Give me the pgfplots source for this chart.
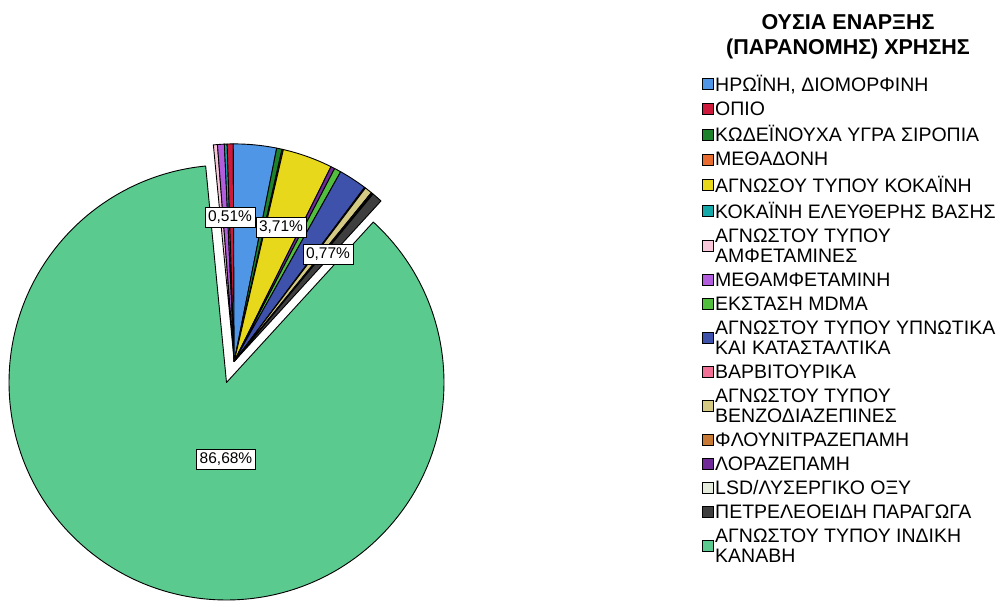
\documentclass[border=0pt]{standalone}
\usepackage{fontspec}
\setmainfont{Liberation Sans}
\usepackage{pgfplots}
\usepackage{pgfplotstable}
\pgfplotsset{compat=1.18}

\definecolor{cHer}{RGB}{80,150,230}
\definecolor{cOpio}{RGB}{205,25,60}
\definecolor{cCod}{RGB}{30,130,45}
\definecolor{cMtd}{RGB}{232,108,48}
\definecolor{cCoc}{RGB}{232,216,28}
\definecolor{cTeal}{RGB}{20,168,168}
\definecolor{cAmph}{RGB}{248,200,218}
\definecolor{cMeth}{RGB}{178,92,222}
\definecolor{cMdma}{RGB}{82,190,62}
\definecolor{cHyp}{RGB}{62,82,172}
\definecolor{cBarb}{RGB}{240,112,150}
\definecolor{cBenz}{RGB}{212,202,132}
\definecolor{cFlu}{RGB}{200,122,52}
\definecolor{cLor}{RGB}{112,42,152}
\definecolor{cLsd}{RGB}{230,236,220}
\definecolor{cPet}{RGB}{62,62,62}
\definecolor{cCan}{RGB}{90,202,142}

% slices in drawing order (clockwise from the start angle)
\pgfplotstableread[col sep=comma]{
val,col,grp
0.30,cAmph,1
0.51,cMeth,1
0.20,cTeal,1
0.45,cOpio,1
3.20,cHer,1
0.40,cCod,1
0.10,cMtd,1
3.71,cCoc,1
0.30,cLor,1
0.50,cMdma,1
2.09,cHyp,1
0.08,cBarb,1
0.55,cBenz,1
0.08,cFlu,1
0.08,cLsd,1
0.77,cPet,1
86.68,cCan,0
}\piedata

\begin{document}
\begin{tikzpicture}
\begin{axis}[
  scale only axis, width=1002pt, height=606pt,
  xmin=0, xmax=1002, ymin=0, ymax=606,
  hide axis, clip=false,
  legend image code/.code={\draw[#1, draw=black, line width=0.8pt] (0pt,-5.5pt) rectangle (11pt,5.5pt);},
  legend style={at={(axis cs:702,532)}, anchor=north west, draw=none, fill=none,
    font=\fontsize{19.5}{20}\selectfont, cells={anchor=west, align=left},
    row sep=6.5pt, inner sep=0pt, nodes={inner xsep=1.2pt, inner ysep=1pt}},
]
\pgfmathsetmacro\curang{95.5}
\pgfplotsforeachungrouped \i in {0,...,16}{%
  \pgfplotstablegetelem{\i}{val}\of\piedata \let\myval\pgfplotsretval
  \pgfplotstablegetelem{\i}{col}\of\piedata \let\mycol\pgfplotsretval
  \pgfplotstablegetelem{\i}{grp}\of\piedata \let\mygrp\pgfplotsretval
  \pgfmathsetmacro\endang{\curang-3.6*\myval}%
  \ifnum\mygrp=1\relax \def\cx{234.2}\def\cy{244.6}\else \def\cx{226.5}\def\cy{223.5}\fi
  \edef\temp{\noexpand\filldraw[fill=\mycol, draw=black, line width=0.9pt, line join=round]
    (axis cs:\cx,\cy) -- ++(\curang:217.5pt) arc[start angle=\curang, end angle=\endang, radius=217.5pt] -- cycle;}%
  \temp
  \global\let\curang\endang
}

\addlegendimage{fill=cHer}\addlegendentry{\strut ΗΡΩΪΝΗ, ΔΙΟΜΟΡΦΙΝΗ}
\addlegendimage{fill=cOpio}\addlegendentry{\strut ΟΠΙΟ}
\addlegendimage{fill=cCod}\addlegendentry{\strut ΚΩΔΕΪΝΟΥΧΑ ΥΓΡΑ ΣΙΡΟΠΙΑ}
\addlegendimage{fill=cMtd}\addlegendentry{\strut ΜΕΘΑΔΟΝΗ}
\addlegendimage{fill=cCoc}\addlegendentry{\strut ΑΓΝΩΣΟΥ ΤΥΠΟΥ ΚΟΚΑΪΝΗ}
\addlegendimage{fill=cTeal}\addlegendentry{\strut ΚΟΚΑΪΝΗ ΕΛΕΥΘΕΡΗΣ ΒΑΣΗΣ}
\addlegendimage{fill=cAmph}\addlegendentry{\strut ΑΓΝΩΣΤΟΥ ΤΥΠΟΥ\\\strut ΑΜΦΕΤΑΜΙΝΕΣ}
\addlegendimage{fill=cMeth}\addlegendentry{\strut ΜΕΘΑΜΦΕΤΑΜΙΝΗ}
\addlegendimage{fill=cMdma}\addlegendentry{\strut ΕΚΣΤΑΣΗ MDMA}
\addlegendimage{fill=cHyp}\addlegendentry{\strut ΑΓΝΩΣΤΟΥ ΤΥΠΟΥ ΥΠΝΩΤΙΚΑ\\\strut ΚΑΙ ΚΑΤΑΣΤΑΛΤΙΚΑ}
\addlegendimage{fill=cBarb}\addlegendentry{\strut ΒΑΡΒΙΤΟΥΡΙΚΑ}
\addlegendimage{fill=cBenz}\addlegendentry{\strut ΑΓΝΩΣΤΟΥ ΤΥΠΟΥ\\\strut ΒΕΝΖΟΔΙΑΖΕΠΙΝΕΣ}
\addlegendimage{fill=cFlu}\addlegendentry{\strut ΦΛΟΥΝΙΤΡΑΖΕΠΑΜΗ}
\addlegendimage{fill=cLor}\addlegendentry{\strut ΛΟΡΑΖΕΠΑΜΗ}
\addlegendimage{fill=cLsd}\addlegendentry{\strut LSD/ΛΥΣΕΡΓΙΚΟ ΟΞΥ}
\addlegendimage{fill=cPet}\addlegendentry{\strut ΠΕΤΡΕΛΕΟΕΙΔΗ ΠΑΡΑΓΩΓΑ}
\addlegendimage{fill=cCan}\addlegendentry{\strut ΑΓΝΩΣΤΟΥ ΤΥΠΟΥ ΙΝΔΙΚΗ\\\strut ΚΑΝΑΒΗ}

\tikzset{lbl/.style={draw=black, fill=white, line width=0.8pt, inner xsep=3pt, inner ysep=3.5pt, font=\fontsize{15.5}{18}\selectfont}}
\node[lbl] at (axis cs:230,389) {0,51\%};
\node[lbl] at (axis cs:281,379) {3,71\%};
\node[lbl] at (axis cs:328,352) {0,77\%};
\node[lbl] at (axis cs:226,147) {86,68\%};

\node[font=\bfseries\fontsize{21.5}{25}\selectfont, align=center] at (axis cs:848,569) {ΟΥΣΙΑ ΕΝΑΡΞΗΣ\\(ΠΑΡΑΝΟΜΗΣ) ΧΡΗΣΗΣ};
\end{axis}
\pgfresetboundingbox
\path (current axis.south west) rectangle (current axis.north east);
\end{tikzpicture}
\end{document}
